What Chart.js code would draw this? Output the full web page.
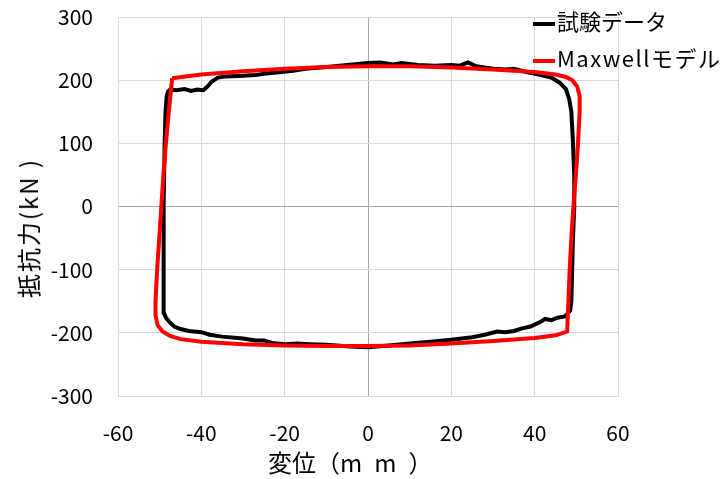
<!DOCTYPE html>
<html>
<head>
<meta charset="utf-8">
<script src="https://cdn.jsdelivr.net/npm/chart.js@4"></script>
<style>
  html, body { margin: 0; padding: 0; background: #fff; }
  #wrap { position: relative; width: 724px; height: 479px; }
  .lg { position: absolute; left: 533px; font: 22px "Noto Sans CJK JP", sans-serif; color: #000; line-height: 1; white-space: nowrap; }
  .lg span.sw { display: inline-block; width: 22px; height: 4px; vertical-align: middle; margin-right: 2px; }
  .ttl { position: absolute; font: 24px "Noto Sans CJK JP", sans-serif; color: #000; white-space: nowrap; line-height: 1; }
</style>
</head>
<body>
<div id="wrap">
  <canvas id="c" width="724" height="479"></canvas>
  <div class="lg" id="lg1" style="top:9px"><span class="sw" style="background:#000"></span>試験データ</div>
  <div class="lg" id="lg2" style="top:46px;letter-spacing:1.5px"><span class="sw" style="background:#ff0000"></span>Maxwellモデル</div>
  <div class="ttl" style="left:268px;top:450px">変位（m&ensp;m&ensp;）</div>
  <div class="ttl" style="left:28px;top:228px;transform:translate(-50%,-50%) rotate(-90deg);letter-spacing:2px">抵抗力(kN )</div>
</div>
<script>
// 試験データ (変位 mm, 抵抗力 kN) — ループ順
const testX = [-49, -49.1, -49, -48.8, -48.6, -48.3, -48, -47.5, -46, -44, -42.5, -41, -39.5, -38.5, -37.5, -36, -34, -30, -27, -25, -22, -18, -15, -10, -5, 0, 3, 6, 8, 12, 16, 20, 22, 24, 26, 30, 33, 35, 38, 41, 44, 46, 47.5, 48.3, 48.8, 49.2, 49.5, 49.5, 49.2, 49, 48.8, 48.5,
  47.3, 45.5, 44, 42.5, 41.3, 39, 37, 35, 33, 31, 28, 25, 20, 15, 10, 5, 0, -3, -6, -10, -14, -17, -20, -23, -25, -27, -30, -35, -38, -40, -43, -45, -46.5, -47.5, -48.5, -49];
const testY = [-168, -100, 0, 100, 150, 175, 182, 185, 184, 186, 183, 185, 184, 190, 198, 204, 206, 207, 208, 210, 212, 215, 218, 221, 224, 227, 228, 225, 227, 224, 223, 224, 223, 228, 222, 218, 217, 218, 213, 209, 204, 196, 186, 170, 150, 100, 50, 0, -50, -100, -150, -165,
  -174, -176, -180, -178, -183, -190, -193, -197, -199, -198, -203, -207, -211, -214, -217, -220, -223, -222, -221, -219, -218, -217, -218, -216, -212, -212, -209, -206, -203, -199, -197, -194, -190, -184, -176, -168];

// Maxwellモデル
const modelX = [-47, -40, -30, -20, -10, 0, 10, 20, 30, 40, 45, 47.5, 49, 50.2, 50.8, 50.8, 50.4, 49.9, 49.3, 48.8, 48.4, 48.1, 47.8,
  45, 40, 30, 20, 10, 0, -10, -20, -30, -40, -45, -47.5, -49.3, -50.5, -51, -51, -50.6, -50.1, -49.6, -49.1, -48.5, -47.8, -47];
const modelY = [203, 209, 214, 218, 221, 222, 222, 220, 217, 213, 209, 205, 200, 190, 175, 150, 100, 50, 0, -50, -100, -150, -198,
  -204, -208, -213, -217, -220, -221, -221, -220, -218, -214, -210, -205, -198, -188, -172, -150, -100, -50, 0, 50, 100, 150, 203];

const xTicks = [-60, -40, -20, 0, 20, 40, 60];
const yTicks = [-300, -200, -100, 0, 100, 200, 300];

const pts = (xs, ys) => xs.map((x, i) => ({ x: x, y: ys[i] }));
const font = { family: '"Noto Sans CJK JP", sans-serif', size: 21 };
const gridColor = c => (c.tick && c.tick.value === 0) ? '#a6a6a6' : '#d9d9d9';

new Chart(document.getElementById('c'), {
  type: 'scatter',
  data: {
    datasets: [
      { label: 'Maxwellモデル', data: pts(modelX, modelY), showLine: true, borderColor: '#ff0000', borderWidth: 4, pointRadius: 0, tension: 0, order: 0 },
      { label: '試験データ', data: pts(testX, testY), showLine: true, borderColor: '#000000', borderWidth: 4, pointRadius: 0, tension: 0, order: 1 }
    ]
  },
  options: {
    responsive: false,
    animation: false,
    layout: { padding: { left: 0, right: 106, top: 17, bottom: 0 } },
    plugins: { legend: { display: false }, tooltip: { enabled: false } },
    scales: {
      x: {
        type: 'linear', min: -60, max: 60,
        afterBuildTicks: s => { s.ticks = xTicks.map(v => ({ value: v })); },
        afterFit: s => { s.height = 83; s.paddingLeft = 0; s.paddingRight = 0; },
        grid: { color: gridColor, drawTicks: false },
        border: { color: '#d9d9d9' },
        ticks: { font: font, color: '#000', padding: 24, maxRotation: 0 },
        title: { display: false }
      },
      y: {
        type: 'linear', min: -300, max: 300,
        afterBuildTicks: s => { s.ticks = yTicks.map(v => ({ value: v })); },
        afterFit: s => { s.width = 118; s.paddingTop = 0; s.paddingBottom = 0; },
        grid: { color: gridColor, drawTicks: false },
        border: { color: '#d9d9d9' },
        ticks: { font: font, color: '#000', padding: 25 },
        title: { display: false }
      }
    }
  }
});
</script>
</body>
</html>
